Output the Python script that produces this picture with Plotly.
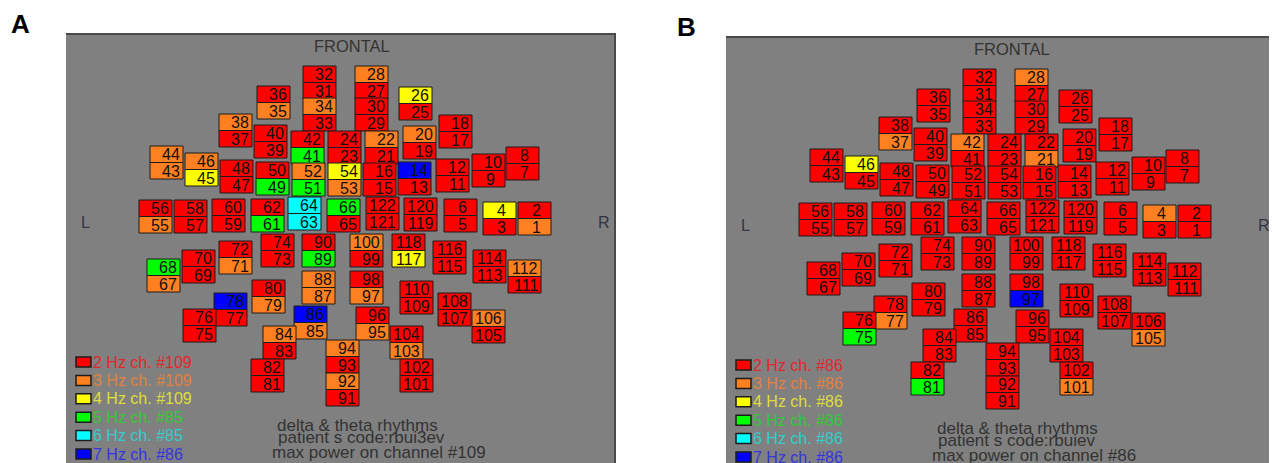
import plotly.graph_objects as go

# ---------------- data ----------------
# electrode montage: each box holds two channels (top / bottom)
pair_top    = [32, 34, 28, 30, 36, 26, 38, 40, 42, 24, 22, 20, 18,
               44, 46, 48, 50, 52, 54, 16, 14, 12, 10, 8,
               56, 58, 60, 62, 64, 66, 122, 120, 6, 4, 2,
               72, 74, 90, 100, 118, 116, 114, 112, 70, 68,
               80, 88, 98, 110, 108, 78, 76, 86, 96, 84, 104, 106,
               94, 92, 82, 102]
pair_bottom = [31, 33, 27, 29, 35, 25, 37, 39, 41, 23, 21, 19, 17,
               43, 45, 47, 49, 51, 53, 15, 13, 11, 9, 7,
               55, 57, 59, 61, 63, 65, 121, 119, 5, 3, 1,
               71, 73, 89, 99, 117, 115, 113, 111, 69, 67,
               79, 87, 97, 109, 107, 77, 75, 85, 95, 83, 103, 105,
               93, 91, 81, 101]
# montage location of each box (left edge, top edge), in map units
pair_x = [237, 237, 289, 289, 191, 333, 153, 188, 225, 262, 299, 337, 373,
          84, 119, 154, 190, 226, 262, 297, 332, 370, 406, 440,
          73, 108, 146, 185, 222, 261, 300, 338, 378, 417, 452,
          153, 195, 236, 284, 326, 367, 407, 442, 116, 81,
          186, 236, 284, 334, 372, 148, 117, 228, 290, 197, 324, 406,
          260, 260, 185, 334]
pair_y = [33, 65, 33, 65, 53, 54, 81, 92, 98, 98, 98, 93, 82,
          113, 120, 127, 129, 130, 130, 130, 129, 126, 121, 114,
          167, 167, 166, 166, 164, 166, 164, 165, 166, 169, 169,
          208, 201, 201, 201, 201, 208, 217, 227, 217, 226,
          247, 238, 238, 248, 260, 260, 276, 273, 274, 293, 293, 277,
          307, 340, 326, 326]

# dominant frequency (Hz) of channels 1..122
freq_A = [3, 2, 2, 4, 2, 2, 2, 2, 2, 2,
          2, 2, 2, 7, 2, 2, 2, 2, 2, 3,
          2, 3, 2, 2, 2, 4, 2, 3, 2, 2,
          2, 2, 2, 3, 3, 2, 2, 3, 2, 2,
          5, 2, 3, 3, 4, 3, 2, 2, 5, 2,
          5, 3, 3, 4, 3, 2, 2, 2, 2, 2,
          5, 2, 6, 6, 2, 5, 3, 5, 2, 2,
          3, 2, 2, 2, 2, 2, 2, 7, 3, 2,
          2, 2, 2, 3, 3, 7, 3, 3, 5, 2,
          2, 3, 2, 3, 3, 2, 3, 2, 2, 3,
          2, 2, 3, 2, 2, 3, 2, 2, 2, 2,
          2, 3, 2, 2, 2, 2, 4, 2, 2, 2,
          2, 2]
freq_B = [2, 2, 2, 3, 2, 2, 2, 2, 2, 2,
          2, 2, 2, 2, 2, 2, 2, 2, 2, 2,
          3, 2, 2, 2, 2, 2, 2, 3, 2, 2,
          2, 2, 2, 2, 2, 2, 3, 2, 2, 2,
          2, 3, 2, 2, 2, 4, 2, 2, 2, 2,
          2, 2, 2, 2, 2, 2, 2, 2, 2, 2,
          2, 2, 2, 2, 2, 2, 2, 2, 2, 2,
          2, 2, 2, 2, 5, 2, 3, 2, 2, 2,
          5, 2, 2, 2, 2, 2, 2, 2, 2, 2,
          2, 2, 2, 2, 2, 2, 7, 2, 2, 2,
          3, 2, 2, 2, 3, 2, 2, 2, 2, 2,
          2, 2, 2, 2, 2, 2, 2, 2, 2, 2,
          2, 2]

legend_freqs = [2, 3, 4, 5, 6, 7]
legend_ch_A = [109, 109, 109, 85, 85, 86]
legend_ch_B = [86, 86, 86, 86, 86, 86]
info_A = ["delta & theta rhythms", "patient s code:rbui3ev", "max power on channel #109"]
info_B = ["delta & theta rhythms", "patient s code:rbuiev", "max power on channel #86"]

# ---------------- styles ----------------
fill = {2: "#ff0000", 3: "#ff8020", 4: "#ffff00", 5: "#00ff00", 6: "#00ffff", 7: "#0000ff"}
txtc = {2: "#e0282c", 3: "#e2823e", 4: "#dede3a", 5: "#34c834", 6: "#34cccc", 7: "#3434e0"}
OFF = 8                      # page body margin in the browser
W, H = 1277 - OFF, 463 - OFF
CW, CH = 33, 16.5
panels = [
    dict(x0=66, x1=616, y0=33, freq=freq_A, leg=legend_ch_A, info=info_A, ax="", lab="A", labx=20, laby=24),
    dict(x0=726, x1=1276, y0=36, freq=freq_B, leg=legend_ch_B, info=info_B, ax="2", lab="B", labx=686, laby=27),
]
for p in panels:
    p["x0"] -= OFF; p["x1"] -= OFF; p["y0"] -= OFF; p["labx"] -= OFF; p["laby"] -= OFF
FONT = "Liberation Sans"

fig = go.Figure()
annotations = []
shapes = []

for p in panels:
    xa = "x" + p["ax"]
    ya = "y" + p["ax"]
    xs, bases, cols = [], [], []
    for t, b, px, py in zip(pair_top, pair_bottom, pair_x, pair_y):
        for ch, dy in ((t, 0), (b, CH)):
            xs.append(px + CW / 2)
            bases.append(py + dy)
            cols.append(fill[p["freq"][ch - 1]])
            right = px + CW - (1 if ch >= 10 else 8)
            annotations.append(dict(x=right, y=py + dy + CH / 2 + 0.5, xref=xa, yref=ya,
                                    text=str(ch), showarrow=False, xanchor="right",
                                    yanchor="middle", font=dict(family=FONT, size=16, color="#111111")))
    fig.add_trace(go.Bar(x=xs, y=[CH] * len(xs), base=bases, width=CW,
                         marker=dict(color=cols, line=dict(color="#1c1c1c", width=1)),
                         xaxis=xa, yaxis=ya, showlegend=False, hoverinfo="skip"))
    # legend
    for i, (f, ch) in enumerate(zip(legend_freqs, p["leg"])):
        yc = 329 + i * 18.4
        shapes.append(dict(type="rect", xref=xa, yref=ya, x0=10, x1=25, y0=yc - 5, y1=yc + 5,
                           fillcolor=fill[f], line=dict(color="#1c1c1c", width=1.5)))
        annotations.append(dict(x=25, y=yc, xref=xa, yref=ya, text=f"{f} Hz ch. #{ch}",
                                showarrow=False, xanchor="left", yanchor="middle",
                                font=dict(family=FONT, size=16, color=txtc[f])))
    # info text
    for i, (s, yy) in enumerate(zip(p["info"], [392, 404, 419])):
        annotations.append(dict(x=[209, 210, 204][i], y=yy, xref=xa, yref=ya, text=s,
                                showarrow=False, xanchor="left", yanchor="middle",
                                font=dict(family=FONT, size=17, color="#333333")))
    annotations.append(dict(x=286, y=13, xref=xa, yref=ya, text="FRONTAL", showarrow=False,
                            xanchor="center", yanchor="middle",
                            font=dict(family=FONT, size=16.5, color="#333333")))
    annotations.append(dict(x=19, y=189, xref=xa, yref=ya, text="L", showarrow=False,
                            xanchor="center", yanchor="middle",
                            font=dict(family=FONT, size=16, color="#333344")))
    annotations.append(dict(x=538, y=189, xref=xa, yref=ya, text="R", showarrow=False,
                            xanchor="center", yanchor="middle",
                            font=dict(family=FONT, size=16, color="#333344")))
    annotations.append(dict(x=p["labx"] / W, y=1 - p["laby"] / H, xref="paper", yref="paper",
                            text=f"<b>{p['lab']}</b>", showarrow=False, xanchor="center",
                            yanchor="middle", font=dict(family=FONT, size=26, color="#000000")))
    # panel border (dark top & right edges)
    shapes.append(dict(type="line", xref="paper", yref="paper", x0=p["x0"] / W, x1=p["x1"] / W,
                       y0=1 - (p["y0"] + 1) / H, y1=1 - (p["y0"] + 1) / H,
                       line=dict(color="#4a4a4a", width=2)))
    shapes.append(dict(type="line", xref="paper", yref="paper", x0=(p["x1"] - 1) / W, x1=(p["x1"] - 1) / W,
                       y0=0, y1=1 - p["y0"] / H, line=dict(color="#4a4a4a", width=2)))

axis_common = dict(visible=False, showgrid=False, zeroline=False, fixedrange=True)
pa, pb = panels
fig.update_layout(
    width=W, height=H, margin=dict(l=0, r=0, t=0, b=0),
    paper_bgcolor="white", plot_bgcolor="#808080",
    barmode="overlay", showlegend=False,
    xaxis=dict(domain=[pa["x0"] / W, pa["x1"] / W], range=[0, pa["x1"] - pa["x0"]], **axis_common),
    yaxis=dict(domain=[0, 1 - pa["y0"] / H], range=[H - pa["y0"], 0], **axis_common),
    xaxis2=dict(domain=[pb["x0"] / W, pb["x1"] / W], range=[0, pb["x1"] - pb["x0"]], **axis_common),
    yaxis2=dict(domain=[0, 1 - pb["y0"] / H], range=[H - pb["y0"], 0], **axis_common),
    annotations=annotations, shapes=shapes,
)
fig.write_html("out.html")
